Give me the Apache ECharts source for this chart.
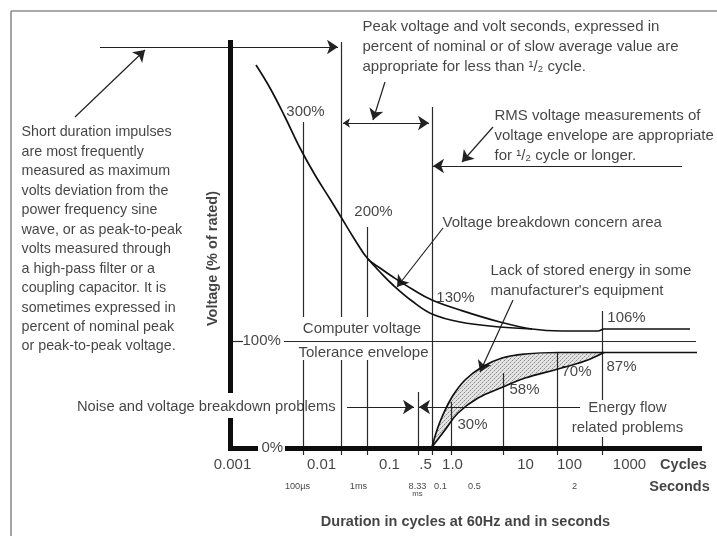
<!DOCTYPE html>
<html><head><meta charset="utf-8">
<script src="https://cdn.jsdelivr.net/npm/echarts@6/dist/echarts.min.js"></script>
<style>html,body{margin:0;padding:0;background:#fff}#c{width:717px;height:536px}</style>
</head><body><div id="c"></div>
<script>
// ---------- DATA (diagram units: x = position along duration axis, y = height above 0% line) ----------
const upperOuter = [[24,382],[38,359],[53,330],[68,299],[83,272],[98,248],[109,230],[123,207],[136,188],[148,179],[161,170],[180,158],[200,147],[228,137],[268,125],[300,118],[330,116],[366,116],[372,118],[458,118]];
const upperInner = [[136,188],[148,175],[161,162],[180,146],[200,133],[228,125],[268,120],[300,118]];
const lowerOuter = [[200,0],[205,17],[210,30],[220,50],[233,67],[250,80],[270,89],[293,93],[326,94.5],[372,94.5],[465,94.5]];
const lowerInner = [[200,0],[213,17],[226,34],[246,49],[271,60],[293,69],[326,78],[353,86],[372,94.5]];
const nominalLine = [[52,106],[464,106]];

const pctLabels = ['300%','200%','130%','106%','87%','70%','58%','30%'];
const pctAt = [[74,335],[142,235],[224,149],[395,129],[390,80],[345,75],[293,57],[241,22]];

const cycleLabels = ['0.001','0.01','0.1','.5','1.0','10','100','1000'];
const cycleAt = [1,90,158,194,221,294,338,398];
const secondLabels = ['100µs','1ms','8.33','0.1','0.5','2'];
const secondAt = [66,127,186,209,243,343];

// vertical guide lines: [x, top, bottom]
const guides = [[71,325,130],[71,87,-8],[109,405,130],[109,87,-8],[135,220,130],[135,87,-8],[186,55,-8],[200,340,-8],[219,45,-8],[271,74,-8],[325,95,-8],[370,136,47],[370,10,-8]];

const paragraph = ['Short duration impulses','are most frequently','measured as maximum','volts deviation from the','power frequency sine','wave, or as peak-to-peak','volts measured through','a high-pass filter or a','coupling capacitor. It is','sometimes expressed in','percent of nominal peak','or peak-to-peak voltage.'];
const peakText = ['Peak voltage and volt seconds, expressed in','percent of nominal or of slow average value are','appropriate for less than ¹/₂ cycle.'];
const rmsText = ['RMS voltage measurements of','voltage envelope are appropriate','for ¹/₂ cycle or longer.'];
const lackText = ['Lack of stored energy in some','manufacturer\'s equipment'];
const energyText = ['Energy flow','related problems'];

// ---------- fonts ----------
function hasFont(name){
  const c=document.createElement('canvas').getContext('2d');
  const t='abcdefghijklmnopqrstuvwxyzABCDEFG0123456789';
  c.font='40px monospace'; const w1=c.measureText(t).width;
  c.font='40px "'+name+'", monospace'; const w2=c.measureText(t).width;
  c.font='40px serif'; const w3=c.measureText(t).width;
  c.font='40px "'+name+'", serif'; const w4=c.measureText(t).width;
  return w1!==w2 || w3!==w4;
}
const NARROW = hasFont('Liberation Sans Narrow');
const FAM = NARROW ? '"Liberation Sans Narrow"' : '"Liberation Sans", Arial, sans-serif';
const k = NARROW ? 1.13 : 1;
const FS = 15*k, FSP = 14.3*k, FSB = 14.5*k, SMALL = 9.2*k;
const INK = '#141414';

// ---------- helpers ----------
function txt(text,x,y,opt){
  return {value:[x,y], name:text, label:Object.assign({show:true, formatter:'{b}', position:[0,0], align:'center', verticalAlign:'middle', fontFamily:FAM, fontSize:FS, color:INK}, opt||{})};
}
const texts = [];
texts.push(txt(paragraph.join('\n'),-210,207,{align:'left', lineHeight:19.45, fontSize:FSP}));
texts.push(txt(peakText.join('\n'),131,400,{align:'left', lineHeight:20}));
texts.push(txt(rmsText.join('\n'),263,310.5,{align:'left', lineHeight:20}));
texts.push(txt(lackText.join('\n'),259,166,{align:'left', lineHeight:20}));
texts.push(txt('Voltage breakdown concern area',211,224,{align:'left'}));
texts.push(txt('Computer voltage',130.5,118));
texts.push(txt('Tolerance envelope',132,94));
texts.push(txt('100%',11,106,{align:'left'}));
texts.push(txt('0%',30,-1,{align:'left'}));
texts.push(txt('Noise and voltage breakdown problems',104,40,{align:'right', fontSize:FSP*1.03}));
texts.push(txt(energyText.join('\n'),396,29,{lineHeight:20}));
pctLabels.forEach((s,i)=>texts.push(txt(s,pctAt[i][0],pctAt[i][1])));
cycleLabels.forEach((s,i)=>texts.push(txt(s,cycleAt[i],-18)));
secondLabels.forEach((s,i)=>texts.push(txt(s,secondAt[i],-40,{fontSize:SMALL})));
texts.push(txt('ms',186,-47.5,{fontSize:SMALL*0.85}));
texts.push(txt('Cycles',452,-18,{fontWeight:'bold', fontSize:FSB}));
texts.push(txt('Seconds',448,-40,{fontWeight:'bold', fontSize:FSB}));
texts.push(txt('Duration in cycles at 60Hz and in seconds',234,-75,{fontWeight:'bold', fontSize:FSB}));
texts.push(txt('Voltage (% of rated)',-19,188,{fontWeight:'bold', rotate:90, fontSize:FSB}));

const thinLines = guides.map(g=>({coords:[[g[0],g[1]],[g[0],g[2]]]}));
thinLines.push({coords:nominalLine});
thinLines.push({coords:[[-1.5,106],[11,106]]});

const arrowLines = [
  {coords:[[-132,400],[106,400]]},
  {coords:[[-157,330],[-87,397]]},
  {coords:[[153,365],[141,327]]},
  {coords:[[450,281],[201,281]]},
  {coords:[[261,320],[230,285]]},
  {coords:[[211,219],[165,160]]},
  {coords:[[281,147],[248,75]]},
  {coords:[[115,40],[182,40]]},
  {coords:[[348,40],[187,40]]}
];
const doubleArrow = [{coords:[[111,324],[197,324]]}];
// thick axis lines, broken where the "Noise..." and "0%" labels sit
const axesLines = [{coords:[[-1.5,407],[-1.5,54]]},{coords:[[-1.5,29],[-1.5,-3]]},{coords:[[-4,-1],[26,-1]]},{coords:[[53,-1],[470,-1]]}];
const frame = [{coords:[[-221,436],[485,436]]},{coords:[[-221,436],[-221,-89]]}];

// stipple pattern
const pc=document.createElement('canvas'); pc.width=4; pc.height=4;
const pctx=pc.getContext('2d'); pctx.fillStyle='#e4e4e4'; pctx.fillRect(0,0,4,4);
pctx.fillStyle='#8c8c8c'; pctx.fillRect(0,0,1,1); pctx.fillRect(2,2,1,1);
pctx.fillStyle='#b8b8b8'; pctx.fillRect(3,1,1,1); pctx.fillRect(1,3,1,1);
const shadePoly = lowerOuter.slice(0,10).concat(lowerInner.slice().reverse());

const chart = echarts.init(document.getElementById('c'), null, {renderer:'canvas'});
chart.setOption({
  animation:false,
  backgroundColor:'#fff',
  grid:{left:0,right:0,top:0,bottom:0},
  xAxis:{type:'value',min:-232,max:485,show:false},
  yAxis:{type:'value',min:-89,max:447,show:false},
  series:[
    {type:'lines',coordinateSystem:'cartesian2d',silent:true,data:frame,lineStyle:{color:'#8e8e8e',width:1.6,opacity:1},z:1},
    {type:'custom',silent:true,data:[[200,0]],z:2,renderItem:function(params,api){
        const pts = shadePoly.map(p=>api.coord(p));
        return {type:'polygon',shape:{points:pts,smooth:0.25},style:{fill:{image:pc,repeat:'repeat'},stroke:null}};
    }},
    {type:'lines',coordinateSystem:'cartesian2d',silent:true,data:thinLines,lineStyle:{color:'#2a2a2a',width:1.2,opacity:1},z:3},
    {type:'lines',coordinateSystem:'cartesian2d',silent:true,data:arrowLines,symbol:['none','arrow'],symbolSize:[7,11],lineStyle:{color:'#222',width:1.2,opacity:1},z:3},
    {type:'lines',coordinateSystem:'cartesian2d',silent:true,data:doubleArrow,symbol:['arrow','arrow'],symbolSize:[7,11],lineStyle:{color:'#222',width:1.2,opacity:1},z:3},
    {type:'line',data:upperOuter,smooth:0.4,symbol:'none',silent:true,lineStyle:{color:'#111',width:1.7},z:4},
    {type:'line',data:upperInner,smooth:0.4,symbol:'none',silent:true,lineStyle:{color:'#111',width:1.7},z:4},
    {type:'line',data:lowerOuter,smooth:0.4,symbol:'none',silent:true,lineStyle:{color:'#111',width:1.7},z:4},
    {type:'line',data:lowerInner,smooth:0.4,symbol:'none',silent:true,lineStyle:{color:'#111',width:1.7},z:4},
    {type:'lines',coordinateSystem:'cartesian2d',silent:true,data:axesLines,lineStyle:{color:'#0d0d0d',width:5,opacity:1},z:5},
    {type:'scatter',data:texts,symbolSize:1,silent:true,z:10,itemStyle:{color:'rgba(255,255,255,0)'}}
  ]
});
</script></body></html>
